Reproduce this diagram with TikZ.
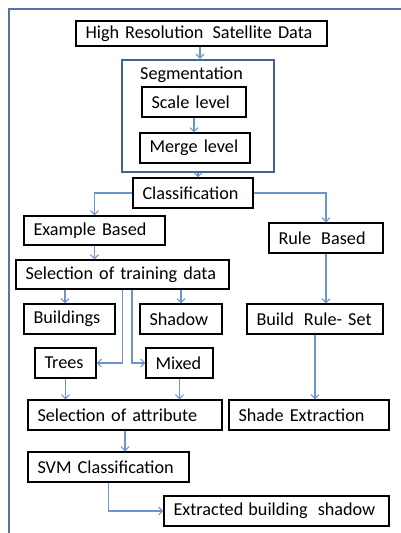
\documentclass[tikz,border=0pt]{standalone}
\usepackage{fontspec}
\setmainfont{Carlito}
\usetikzlibrary{arrows.meta}

\definecolor{framecol}{HTML}{4F74A8}
\definecolor{segcol}{HTML}{3F6394}
\definecolor{arrcol}{HTML}{6D95CB}

\tikzset{
  box/.style={draw=black, line width=1.2pt, inner xsep=9.5pt, inner ysep=0pt, minimum height=30pt,
    align=left, font=\fontsize{18.2}{22}\selectfont,
    execute at begin node={\hbox\bgroup}, execute at end node={\egroup}},
  segbox/.style={draw=segcol, line width=2.4pt, inner sep=0pt},
  arr/.style={draw=arrcol, line width=1.1pt, -{Straight Barb[length=4pt,width=8pt]}},
}

\begin{document}
\begin{tikzpicture}[x=1pt,y=-1pt]
\useasboundingbox (0,0) rectangle (401,533);
\draw[framecol, line width=2pt] (9,533) -- (9,8.5) -- (401,8.5);

% segmentation block
\node[box, text width=232pt, minimum height=25pt] (hrsd) at (201.5,33.5) {High Resolution\hspace{3pt} Satellite Data};
\node[segbox, minimum width=152, minimum height=112] (seg) at (198,116) {};
\node[font=\fontsize{18.2}{22}\selectfont, inner sep=0pt] (segt) at (191.5,75) {Segmentation};
\node[box, text width=85pt] (scale) at (194,102) {Scale level};
\node[box, text width=91pt] (merge) at (195,148) {Merge level};

% classification
\node[box, text width=101pt] (cls) at (193,193) {Classification};
\node[box, text width=122pt, minimum height=29pt] (exb) at (94.5,230.5) {Example Based};
\node[box, text width=95pt] (rub) at (326,238) {Rule\hspace{4pt} Based};
\node[box, text width=194pt, minimum height=29pt] (std) at (122.5,274.5) {Selection of training data};
\node[box, text width=72pt] (bld) at (69.5,319) {Buildings};
\node[box, text width=63pt] (shd) at (181,319) {Shadow};
\node[box, text width=117pt] (brs) at (315,319) {Build\hspace{4pt} Rule- Set};
\node[box, text width=42pt] (trees) at (65.5,363) {Trees};
\node[box, text width=48pt] (mix) at (179.5,363) {Mixed};
\node[box, text width=175pt] (soa) at (125,415) {Selection of attribute};
\node[box, text width=141pt] (she) at (309,415) {Shade Extraction};
\node[box, text width=142pt] (svm) at (108.5,467) {SVM Classification};
\node[box, text width=206pt] (ebs) at (276.5,511) {Extracted\hspace{-1pt} building\hspace{4pt} shadow};

% connectors
\draw[arr] ([xshift=-1.5pt]hrsd.south) -- ([xshift=-1.5pt]hrsd.south |- seg.north);
\draw[arr] (scale.south) -- (scale.south |- merge.north);
\draw[arr] (seg.south) -- (seg.south |- cls.north);
\draw[arr] (cls.west) -| (exb.north);
\draw[arr] (cls.east) -| (rub.north);
\draw[arr] (exb.south) -- (exb.south |- std.north);
\draw[arr] (rub.south) -- (rub.south |- brs.north);
\draw[arr] ([xshift=-4.5pt]bld.north |- std.south) -- ([xshift=-4.5pt]bld.north);
\draw[arr] (shd.north |- std.south) -- (shd.north);
\draw[arr] (std.south) |- (trees.east);
\draw[arr] ([xshift=9.5pt]std.south) |- (mix.west);
\draw[arr] (trees.south) -- (trees.south |- soa.north);
\draw[arr] (mix.south) -- (mix.south |- soa.north);
\draw[arr] (soa.south) -- (soa.south |- svm.north);
\draw[arr] (brs.south) -- (brs.south |- she.north);
\draw[arr] (svm.south) |- (ebs.west);
\end{tikzpicture}
\end{document}
